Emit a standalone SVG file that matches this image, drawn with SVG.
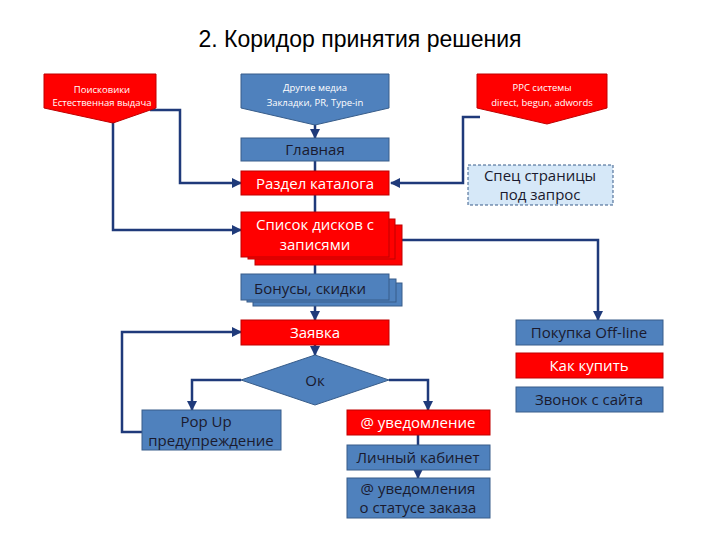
<svg xmlns="http://www.w3.org/2000/svg" width="720" height="540" viewBox="0 0 720 540">
<defs>
<marker id="a" viewBox="0 0 10 10" refX="9" refY="5" markerWidth="4" markerHeight="4" orient="auto"><path d="M0 0L10 5L0 10z" fill="#1f3a7a"/></marker>
<style>
text{font-family:"Open Sans","Liberation Sans",sans-serif;text-anchor:middle}
.r{fill:#ff0000;stroke:#c00000;stroke-width:1}
.b{fill:#4f81bd;stroke:#385d8a;stroke-width:1}
.w{fill:#fff;font-size:15px}
.d{fill:#1a1a2e;font-size:15px}
.s{font-size:9.5px}
.c{fill:none;stroke:#1f3a7a;stroke-width:2.5}
.ar{marker-end:url(#a)}
</style>
</defs>
<rect width="720" height="540" fill="#fff"/>
<text x="360" y="47" style="font-size:23px;font-family:'Liberation Sans',sans-serif" fill="#000">2. Коридор принятия решения</text>
<g id="connectors">
<path class="c ar" d="M315 124V138"/>
<path class="c" d="M315 161V171M315 195V212M315 257V274"/>
<path class="c ar" d="M315 306V320"/>
<path class="c ar" d="M315 345V355"/>
<path class="c ar" d="M150 110H180V183H241"/>
<path class="c ar" d="M113 118V230H241"/>
<path class="c ar" d="M480 117H463V183H391"/>
<path class="c ar" d="M402 240H598V320"/>
<path class="c ar" d="M241 380H192V410"/>
<path class="c ar" d="M389 380H428V410"/>
<path class="c ar" d="M142 432H122V332H241"/>
<path class="c" d="M418 435V445"/>
<path class="c ar" d="M418 470V478"/>
</g>
<g id="n-poisk"><path class="r" d="M44 74H156V108L113 123L44 108Z"/><text class="w s" x="102" y="93">Поисковики</text><text class="w s" x="102" y="106">Естественная выдача</text></g>
<g id="n-media"><path class="b" d="M241 74H389V108L315 125L241 108Z"/><text class="w s" x="315" y="91">Другие медиа</text><text class="w s" x="315" y="106">Закладки, PR, Type-in</text></g>
<g id="n-ppc"><path class="r" d="M477 74H607V108L547 124L477 108Z"/><text class="w s" x="542" y="91">PPC системы</text><text class="w s" x="542" y="106">direct, begun, adwords</text></g>
<g id="n-main"><rect class="b" x="241" y="138" width="148" height="23"/><text class="d" x="315" y="155">Главная</text></g>
<g id="n-razdel"><rect class="r" x="241" y="171" width="148" height="24"/><text class="w" x="315" y="189">Раздел каталога</text></g>
<g id="n-spec"><rect x="468" y="165" width="145" height="40" fill="#d6e8f8" stroke="#385d8a" stroke-dasharray="3,2"/><text class="d" x="540" y="181">Спец страницы</text><text class="d" x="540" y="200">под запрос</text></g>
<g id="n-spisok"><rect class="r" x="255" y="225" width="147" height="40"/><rect class="r" x="248" y="219" width="147" height="40"/><rect class="r" x="241" y="212" width="148" height="45"/><text class="w" x="315" y="230">Список дисков с</text><text class="w" x="315" y="250">записями</text></g>
<g id="n-bonus"><rect class="b" x="253" y="283" width="149" height="23"/><rect class="b" x="247" y="279" width="149" height="23"/><rect class="b" x="241" y="274" width="148" height="26"/><text class="d" x="310" y="294">Бонусы, скидки</text></g>
<g id="n-zayavka"><rect class="r" x="241" y="320" width="148" height="25"/><text class="w" x="315" y="338">Заявка</text></g>
<g id="n-ok"><path class="b" d="M315 355L389 380L315 405L241 380Z"/><text class="d" x="315" y="386">Ок</text></g>
<g id="n-popup"><rect class="b" x="142" y="410" width="139" height="40"/><text class="d" x="206" y="427">Pop Up</text><text class="d" x="211" y="446">предупреждение</text></g>
<g id="n-uved"><rect class="r" x="347" y="410" width="143" height="25"/><text class="w" x="418" y="428">@ уведомление</text></g>
<g id="n-lk"><rect class="b" x="347" y="445" width="143" height="25"/><text class="d" x="418" y="463">Личный кабинет</text></g>
<g id="n-status"><rect class="b" x="347" y="478" width="143" height="40"/><text class="d" x="418" y="494">@ уведомления</text><text class="d" x="418" y="513">о статусе заказа</text></g>
<g id="n-offline"><rect class="b" x="516" y="320" width="147" height="25"/><text class="d" x="589" y="338">Покупка Off-line</text></g>
<g id="n-kak"><rect class="r" x="516" y="353" width="147" height="25"/><text class="w" x="589" y="371">Как купить</text></g>
<g id="n-zvonok"><rect class="b" x="516" y="387" width="147" height="25"/><text class="d" x="589" y="405">Звонок с сайта</text></g>
</svg>
